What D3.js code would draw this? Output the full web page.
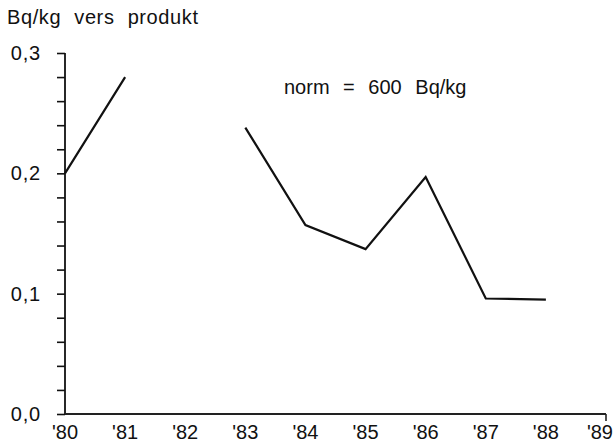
<!DOCTYPE html>
<html>
<head>
<meta charset="utf-8">
<script src="https://cdn.jsdelivr.net/npm/d3@7"></script>
<style>
  html, body { margin: 0; padding: 0; background: #fff; }
  svg { display: block; }
  text { font-family: "Liberation Sans", Arial, sans-serif; fill: #111; }
</style>
</head>
<body>
<svg id="chart" width="614" height="444"></svg>
<script>
// Years on the horizontal axis
const years = ["'80", "'81", "'82", "'83", "'84", "'85", "'86", "'87", "'88", "'89"];
// Bq/kg fresh product per year (no measurement for '82, none yet for '89)
const values = [0.2, 0.28, null, 0.238, 0.157, 0.137, 0.197, 0.096, 0.095, null];
// Y tick labels
const yMajor = [0, 0.1, 0.2, 0.3];
const yLabels = ["0,0", "0,1", "0,2", "0,3"];
const yMinor = d3.range(0, 16).map(i => i * 0.02);

const svg = d3.select("#chart");
const x0 = 65, x1 = 606, yTop = 53, yBot = 414;

const x = d3.scalePoint().domain(years).range([x0, x1]);
const y = d3.scaleLinear().domain([0, 0.3]).range([yBot, yTop]);

// Y axis with ticks every 0.02, labels at the tenths
const yAxis = d3.axisLeft(y).tickValues(yMinor).tickSize(8).tickFormat("");
const gy = svg.append("g").attr("transform", `translate(${x0},0)`).call(yAxis);
gy.select(".domain").remove();
gy.selectAll(".tick line").attr("stroke", "#111").attr("stroke-width", 1.6);
svg.append("line")
  .attr("x1", x0).attr("x2", x0).attr("y1", y(0.3)).attr("y2", y(0))
  .attr("stroke", "#111").attr("stroke-width", 1.8);

svg.append("g").selectAll("text").data(yMajor).join("text")
  .attr("x", 41).attr("y", d => y(d) + 7)
  .attr("text-anchor", "end").attr("font-size", 20).attr("letter-spacing", 0.8)
  .text((d, i) => yLabels[i]);

// X axis
svg.append("line")
  .attr("x1", x0).attr("x2", x1).attr("y1", yBot).attr("y2", yBot)
  .attr("stroke", "#222").attr("stroke-width", 1.8);
svg.append("line")
  .attr("x1", x1).attr("x2", x1).attr("y1", yBot).attr("y2", yBot + 7)
  .attr("stroke", "#222").attr("stroke-width", 1.6);
svg.append("g").selectAll("text").data(years).join("text")
  .attr("x", (d, i) => i === years.length - 1 ? 613 : x(d))
  .attr("y", 439)
  .attr("text-anchor", (d, i) => i === years.length - 1 ? "end" : "middle")
  .attr("font-size", 20)
  .text(d => d);

// Data line, broken where a year has no value
const line = d3.line()
  .defined(d => d.v !== null)
  .x(d => x(d.year))
  .y(d => y(d.v));
svg.append("path")
  .datum(years.map((yr, i) => ({ year: yr, v: values[i] })))
  .attr("d", line)
  .attr("fill", "none").attr("stroke", "#111")
  .attr("stroke-width", 2.2).attr("stroke-linejoin", "miter");

// Titles
svg.append("text").attr("x", 7).attr("y", 24).attr("font-size", 20)
  .attr("letter-spacing", 0.6).attr("word-spacing", 7).text("Bq/kg vers produkt");
svg.append("text").attr("x", 284).attr("y", 94).attr("font-size", 20)
  .attr("word-spacing", 8).text("norm = 600 Bq/kg");
</script>
</body>
</html>
